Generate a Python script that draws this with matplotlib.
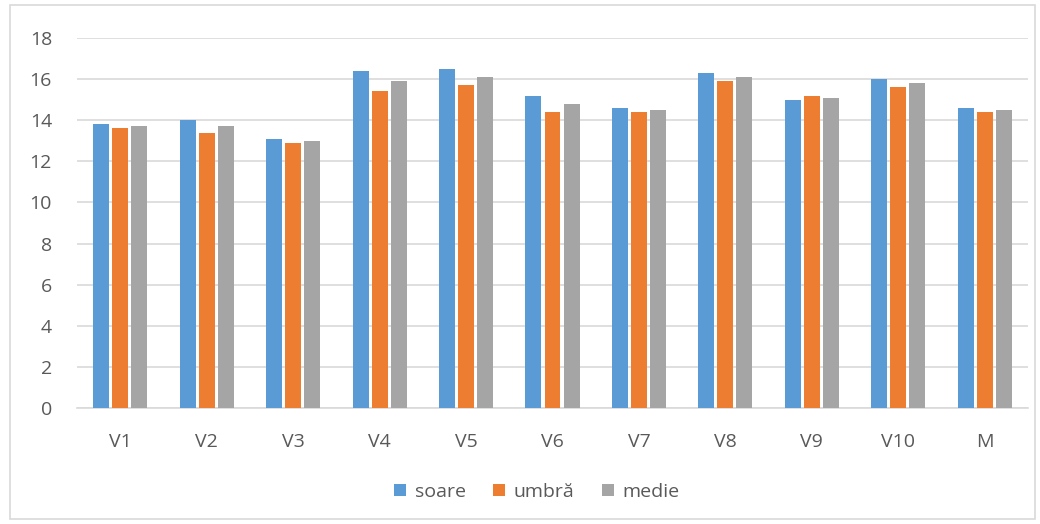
import numpy as np
import matplotlib
matplotlib.use("Agg")
import matplotlib.pyplot as plt
from matplotlib.patches import Rectangle

plt.rcParams['font.family'] = ['Open Sans', 'DejaVu Sans']

categories = ['V1', 'V2', 'V3', 'V4', 'V5', 'V6', 'V7', 'V8', 'V9', 'V10', 'M']
soare = [13.8, 14.0, 13.1, 16.4, 16.5, 15.2, 14.6, 16.3, 15.0, 16.0, 14.6]
umbra = [13.6, 13.4, 12.9, 15.4, 15.7, 14.4, 14.4, 15.9, 15.2, 15.6, 14.4]
medie = [13.7, 13.7, 13.0, 15.9, 16.1, 14.8, 14.5, 16.1, 15.1, 15.8, 14.5]
series_names = ['soare', 'umbră', 'medie']
colors = ['#5B9BD5', '#ED7D31', '#A5A5A5']
text_color = '#595959'

fig = plt.figure(figsize=(10.4, 5.24), dpi=100)
# chart frame
fig.patches.append(Rectangle((10 / 1040, 5 / 524), 1025 / 1040, 514 / 524,
                             transform=fig.transFigure, fill=False,
                             edgecolor='#D9D9D9', linewidth=1.2))

ax = fig.add_axes([77 / 1040, 1 - 408 / 524, (1028 - 77) / 1040, (408 - 38) / 524])

x = np.arange(len(categories))
width = 0.185
step = 0.22
for i, (vals, name, c) in enumerate(zip([soare, umbra, medie], series_names, colors)):
    ax.bar(x + (i - 1) * step, vals, width=width, color=c, label=name, zorder=3)

ax.set_xlim(-0.5, len(categories) - 0.5)
ax.set_ylim(0, 18)
ax.set_yticks(range(0, 19, 2))
ax.set_xticks(x)
ax.set_xticklabels(categories)
ax.yaxis.grid(True, color='#D9D9D9', linewidth=1.2, zorder=0)
for s in ['top', 'right', 'left']:
    ax.spines[s].set_visible(False)
ax.spines['bottom'].set_color('#D9D9D9')
ax.spines['bottom'].set_linewidth(1.2)
ax.tick_params(axis='both', length=0, colors=text_color, labelsize=14)
ax.tick_params(axis='y', pad=18)
ax.tick_params(axis='x', pad=18)

leg = fig.legend(loc='center', bbox_to_anchor=(537 / 1040, 1 - 492 / 524), ncol=3,
                 frameon=False, fontsize=14, handlelength=0.62, handleheight=0.62,
                 handletextpad=0.45, columnspacing=1.4)
for t in leg.get_texts():
    t.set_color(text_color)

fig.savefig('out.png', dpi=100)
